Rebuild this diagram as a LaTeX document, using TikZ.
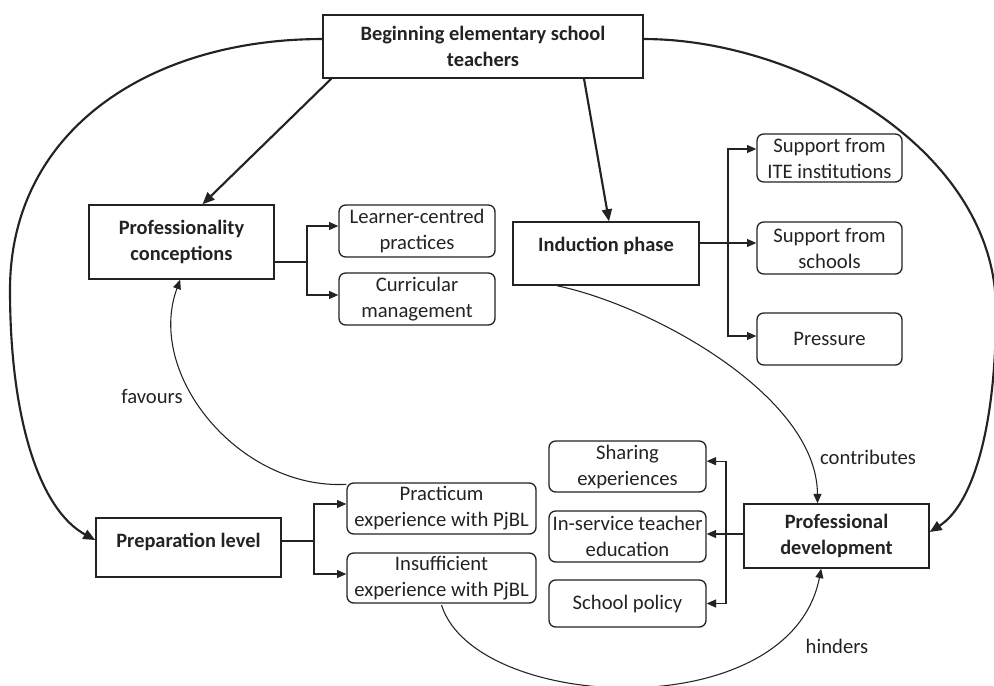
\documentclass[tikz,border=0pt]{standalone}
\usepackage{fontspec}
\setmainfont{Carlito}
\usetikzlibrary{arrows.meta,calc}
\definecolor{ink}{RGB}{35,35,35}
\begin{document}
\begin{tikzpicture}[x=0.75pt,y=-0.75pt,
  every node/.style={font=\fontsize{15.5}{19.5}\selectfont, text=ink},
  mainbox/.style={draw=ink, line width=1.1pt, align=center, inner sep=0pt,
    font=\fontsize{15.3}{19}\selectfont\bfseries},
  subbox/.style={draw=ink, line width=1pt, rounded corners=5pt, align=center, inner sep=0pt},
  link/.style={draw=ink, line width=0.8pt},
  linkarr/.style={link, -{Triangle[length=7pt,width=6pt]}},
  bigarr/.style={draw=ink, line width=1.6pt, -{Triangle[length=9pt,width=7.5pt]}},
  lbl/.style={font=\fontsize{15.5}{19.5}\selectfont}
]
\fill[white] (0,0) rectangle (994,685);
\useasboundingbox (0,0) rectangle (994,685);

% main boxes
\node[mainbox, minimum width=240pt, minimum height=47.25pt] (top) at (483,46.5)
  {Beginning elementary school\\teachers};
\node[mainbox, minimum width=138.75pt, minimum height=55.5pt] (prof) at (181.5,242)
  {Professionality\\conceptions};
\node[mainbox, minimum width=139.5pt, minimum height=47.25pt] (induct) at (606,253.5)
  {\raisebox{14pt}{Induction phase}};
\node[mainbox, minimum width=138.75pt, minimum height=44.25pt] (prep) at (188.5,547.5)
  {\raisebox{11pt}{Preparation level}};
\node[mainbox, minimum width=138.75pt, minimum height=48pt] (profdev) at (836.5,536)
  {Professional\\development};

% sub boxes
\node[subbox, minimum width=117pt, minimum height=39pt] (learner) at (417,231)
  {Learner-centred\\practices};
\node[subbox, minimum width=117pt, minimum height=39pt] (curric) at (417,299)
  {Curricular\\management};
\node[subbox, minimum width=108.75pt, minimum height=36pt] (ite) at (829.5,158)
  {Support from\\ITE institutions};
\node[subbox, minimum width=108.75pt, minimum height=39pt] (schools) at (829.5,248)
  {Support from\\schools};
\node[subbox, minimum width=108.75pt, minimum height=39pt] (pressure) at (829.5,339)
  {Pressure};
\node[subbox, minimum width=141.75pt, minimum height=38.25pt] (practicum) at (441.5,508.5)
  {Practicum\\experience with PjBL};
\node[subbox, minimum width=141.75pt, minimum height=37.5pt] (insuff) at (441.5,578)
  {Insufficient\\experience with PjBL};
\node[subbox, minimum width=117.75pt, minimum height=38.25pt] (sharing) at (627.5,466.5)
  {Sharing\\experiences};
\node[subbox, minimum width=117.75pt, minimum height=38.25pt] (inservice) at (627.5,536.5)
  {In-service teacher\\education};
\node[subbox, minimum width=117.75pt, minimum height=35.25pt] (policy) at (627.5,603.5)
  {School policy};

% labels
\node[lbl] (favours) at (152,396) {favours};
\node[lbl] (contributes) at (868,457) {contributes};
\node[lbl] (hinders) at (837,646) {hinders};

% junction points
\coordinate (pj) at (307,262);
\coordinate (ij) at (728,243);
\coordinate (rj) at (314,541);
\coordinate (dj) at (726,534);

% branches
\draw[link] (pj -| prof.east) -- (pj);
\draw[linkarr] (pj) |- ([yshift=3.75pt]learner.west);
\draw[linkarr] (pj) |- ([yshift=3pt]curric.west);

\draw[linkarr] (ij -| induct.east) -- (ij -| schools.west);
\draw[linkarr] (ij) |- ([yshift=6.75pt]ite.west);
\draw[linkarr] (ij) |- ([yshift=2.25pt]pressure.west);

\draw[link] (rj -| prep.east) -- (rj);
\draw[linkarr] (rj) |- ([yshift=3.4pt]practicum.west);
\draw[linkarr] (rj) |- ([yshift=3pt]insuff.west);

\draw[link] (dj -| profdev.west) -- (dj);
\draw[linkarr] (dj) -- (dj -| inservice.east);
\draw[linkarr] (dj) |- ([yshift=4pt]sharing.east);
\draw[linkarr] (dj) |- (policy.east);

% straight thick arrows
\draw[bigarr] ([xshift=6.75pt]top.south west) -- ([xshift=15.75pt]prof.north);
\draw[bigarr] ([xshift=75.75pt]top.south) -- ([xshift=2.25pt]induct.north);

% big outer curves
\draw[bigarr] ([yshift=5.6pt]top.west) .. controls (150,39) and (10,130) .. (10,290)
  .. controls (10,420) and (40,510) .. ([yshift=5.6pt]prep.west);
\draw[bigarr] ([yshift=5.6pt]top.east) .. controls (800,39) and (996,150) .. (996,310)
  .. controls (996,430) and (972,505) .. ([yshift=3pt]profdev.east);

% influence curves
\draw[linkarr] ([yshift=-1.5pt]practicum.north west) .. controls (240,490) and (145,375) .. ([xshift=-1pt]prof.south);
\draw[linkarr] ([xshift=-36.75pt]induct.south) .. controls (650,305) and (817,395) .. ([xshift=-14.25pt]profdev.north);
\draw[linkarr] ([yshift=-1pt]insuff.south) .. controls (475,712) and (790,728) .. ([xshift=-11.5pt]profdev.south);
\end{tikzpicture}
\end{document}
